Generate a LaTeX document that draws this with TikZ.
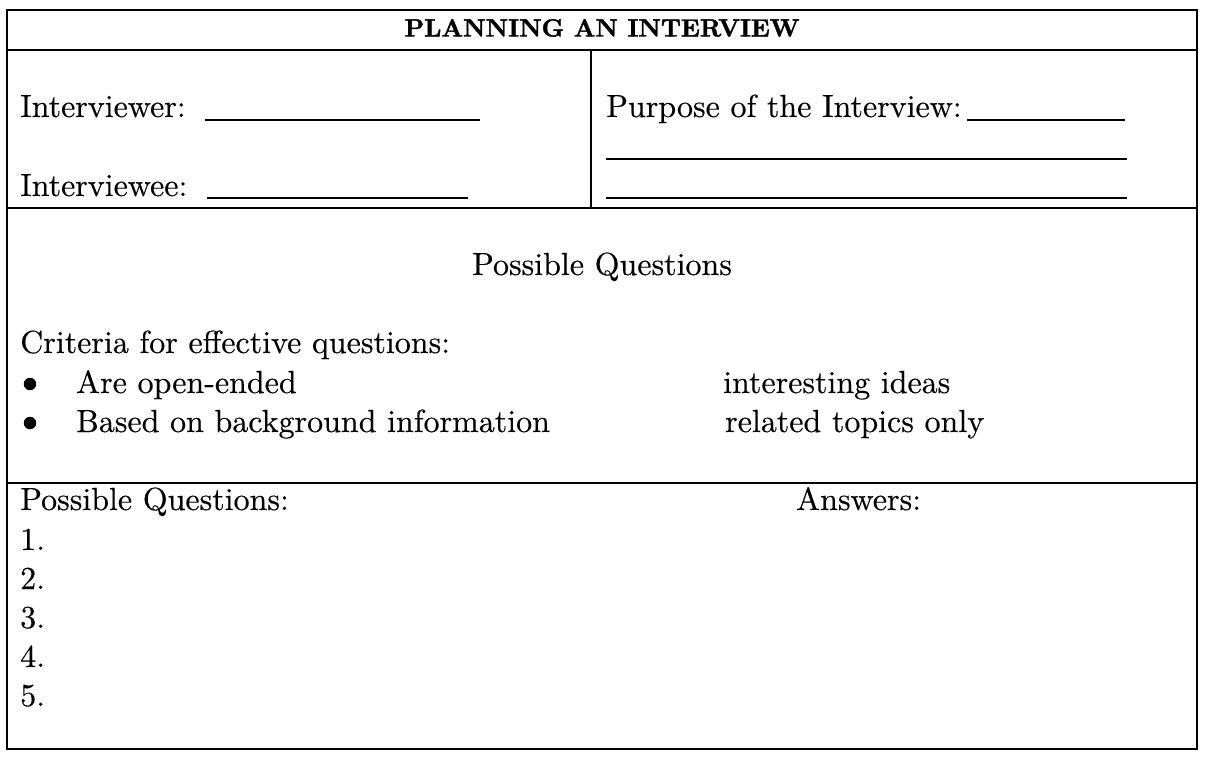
\documentclass[tikz,border=0pt]{standalone}
\usepackage{fontspec}
\setmainfont{lmroman10-regular.otf}[BoldFont=lmroman10-bold.otf, UprightFeatures={FakeBold=0.3}]
\newfontfamily\titlefont{lmroman10-bold.otf}[FakeBold=1.5]
\begin{document}
\begin{tikzpicture}[x=1pt,y=-1pt,
  frame/.style={line width=1.2pt},
  uline/.style={line width=1.3pt},
  txt/.style={anchor=base west, inner sep=0pt, font=\fontsize{32}{38}\selectfont},
  ctxt/.style={anchor=base, inner sep=0pt, font=\fontsize{32}{38}\selectfont},
  ttl/.style={anchor=base, inner sep=0pt, font=\titlefont\fontsize{25}{30}\selectfont},
  dot/.style={circle, fill=black, draw=none, inner sep=0pt, minimum size=12.5pt}]
\useasboundingbox (0,0) rectangle (1207,763);
% table frame
\draw[frame] (7,10) rectangle (1197,749);
\draw[frame] (7,50) -- (1197,50);
\draw[frame] (591,50) -- (591,208);
\draw[frame] (7,208) -- (1197,208);
\draw[frame] (7,483) -- (1197,483);
% title
\node[ttl] (title) at (602,36.5) {PLANNING AN INTERVIEW};
% row 2 left
\node[txt] (iver) at (20,117) {Interviewer:};
\draw[uline] (205,120) -- (480,120);
\node[txt] (ivee) at (20,196) {Interviewee:};
\draw[uline] (207,198) -- (468,198);
% row 2 right
\node[txt] (purp) at (606,117) {Purpose of the Interview:};
\draw[uline] (967,120) -- (1125,120);
\draw[uline] (606,159) -- (1127,159);
\draw[uline] (606,198) -- (1127,198);
% row 3
\node[ctxt] (pq) at (602,275) {Possible Questions};
\node[txt] (crit) at (20,353) {Criteria for effective questions:};
\node[dot] (b1) at (30,384) {};
\node[txt] (c1) at (76,393) {Are open-ended};
\node[txt] (c1r) at (723,393) {interesting ideas};
\node[dot] (b2) at (30,423) {};
\node[txt] (c2) at (76,432) {Based on background information};
\node[txt] (c2r) at (725,432) {related topics only};
% row 4
\node[txt] (pqs) at (20,510) {Possible Questions:};
\node[txt] (ans) at (796,510) {Answers:};
\node[txt] (n1) at (20,550) {1.};
\node[txt] (n2) at (20,589) {2.};
\node[txt] (n3) at (20,628) {3.};
\node[txt] (n4) at (20,667) {4.};
\node[txt] (n5) at (20,706) {5.};
\end{tikzpicture}
\end{document}
